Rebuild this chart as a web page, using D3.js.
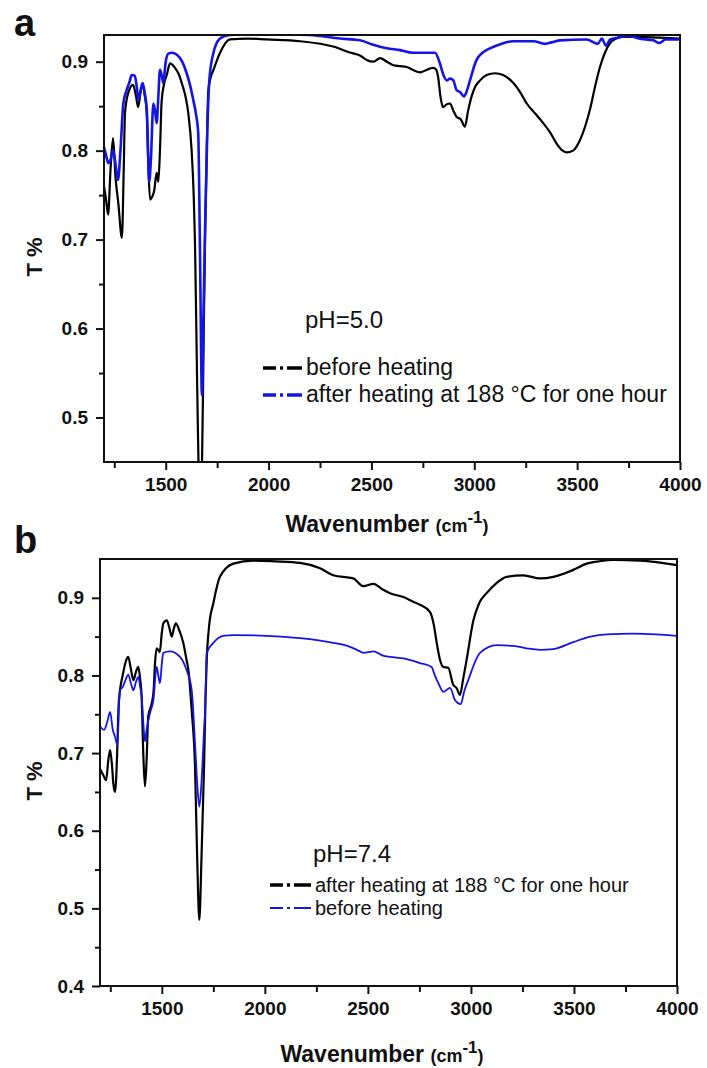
<!DOCTYPE html>
<html>
<head>
<meta charset="utf-8">
<script src="https://cdn.jsdelivr.net/npm/d3@7"></script>
<style>
   body { margin: 0; background: #fff; }
   svg { display: block; font-family: 'Liberation Sans', Arial, sans-serif; }
   .axis text { font-weight: bold; font-size: 19px; fill: #111; }
   .axis line { stroke: #111; stroke-width: 2; }
   .axis path { display: none; }
</style>
</head>
<body>
<svg id="chart" width="707" height="1068"></svg>
<script>
// x axis ticks (shared by both panels)
const xMajorTicks = [1500, 2000, 2500, 3000, 3500, 4000];
const xMinorTicks = [1250, 1750, 2250, 2750, 3250, 3750];

// panel a, pH 5.0
const aYTicks = [0.5, 0.6, 0.7, 0.8, 0.9];
const aYMinor = [0.55, 0.65, 0.75, 0.85];
const aLegend = ['before heating', 'after heating at 188 °C for one hour'];
// [wavenumber, T]
const aBefore = [[1200,0.76],[1210,0.745],[1220,0.728],[1232,0.78],[1244,0.814],[1256,0.77],[1270,0.74],[1287,0.702],[1296,0.78],[1302,0.842],[1318,0.865],[1341,0.874],[1355,0.862],[1366,0.849],[1378,0.866],[1388,0.874],[1398,0.862],[1408,0.842],[1416,0.78],[1424,0.745],[1434,0.748],[1444,0.755],[1456,0.775],[1464,0.765],[1472,0.8],[1480,0.855],[1492,0.875],[1505,0.885],[1521,0.898],[1545,0.893],[1565,0.885],[1578,0.876],[1595,0.862],[1610,0.842],[1626,0.80],[1636,0.75],[1642,0.70],[1652,0.55],[1660,0.44],[1668,0.40],[1676,0.44],[1684,0.58],[1691,0.70],[1699,0.795],[1707,0.867],[1718,0.882],[1731,0.89],[1764,0.91],[1812,0.925],[1900,0.926],[1991,0.925],[2153,0.923],[2314,0.917],[2400,0.91],[2444,0.907],[2477,0.902],[2510,0.9],[2542,0.904],[2575,0.9],[2607,0.896],[2640,0.895],[2671,0.894],[2700,0.891],[2736,0.888],[2770,0.891],[2800,0.893],[2815,0.891],[2824,0.883],[2836,0.86],[2848,0.849],[2865,0.852],[2882,0.853],[2898,0.845],[2914,0.838],[2935,0.835],[2954,0.827],[2970,0.845],[2987,0.861],[3005,0.872],[3028,0.879],[3060,0.885],[3101,0.887],[3140,0.885],[3190,0.876],[3225,0.865],[3255,0.853],[3295,0.842],[3335,0.831],[3370,0.82],[3400,0.808],[3430,0.80],[3449,0.798],[3480,0.80],[3514,0.812],[3540,0.828],[3562,0.846],[3590,0.875],[3611,0.894],[3635,0.91],[3660,0.921],[3690,0.926],[3708,0.928],[3800,0.928],[3900,0.927],[4000,0.926]];
const aAfter = [[1200,0.804],[1210,0.795],[1220,0.786],[1232,0.79],[1244,0.80],[1256,0.785],[1268,0.767],[1280,0.80],[1294,0.853],[1310,0.868],[1325,0.878],[1334,0.885],[1350,0.884],[1360,0.87],[1367,0.857],[1378,0.868],[1388,0.876],[1398,0.865],[1408,0.846],[1414,0.80],[1420,0.765],[1428,0.79],[1440,0.853],[1448,0.845],[1456,0.831],[1464,0.86],[1472,0.891],[1480,0.885],[1488,0.876],[1500,0.90],[1513,0.909],[1530,0.91],[1553,0.908],[1580,0.90],[1602,0.887],[1620,0.872],[1634,0.857],[1648,0.84],[1658,0.82],[1667,0.68],[1676,0.525],[1684,0.62],[1692,0.72],[1702,0.82],[1712,0.879],[1731,0.909],[1764,0.926],[1812,0.93],[1900,0.931],[2000,0.931],[2200,0.93],[2347,0.926],[2444,0.924],[2509,0.919],[2575,0.915],[2639,0.913],[2700,0.91],[2736,0.91],[2809,0.91],[2833,0.898],[2850,0.885],[2866,0.879],[2882,0.881],[2898,0.879],[2914,0.868],[2930,0.866],[2950,0.861],[2965,0.868],[2979,0.879],[3011,0.902],[3040,0.91],[3076,0.915],[3130,0.92],[3190,0.923],[3287,0.923],[3344,0.92],[3380,0.922],[3417,0.924],[3546,0.925],[3600,0.92],[3620,0.926],[3640,0.918],[3660,0.925],[3700,0.927],[3750,0.929],[3800,0.926],[3870,0.924],[3900,0.921],[3930,0.925],[4000,0.925]];

// panel b, pH 7.4
const bYTicks = [0.4, 0.5, 0.6, 0.7, 0.8, 0.9];
const bYMinor = [0.45, 0.55, 0.65, 0.75, 0.85];
const bLegend = ['after heating at 188 °C for one hour', 'before heating'];
const bAfter = [[1200,0.68],[1215,0.672],[1230,0.665],[1240,0.69],[1249,0.704],[1258,0.685],[1265,0.66],[1273,0.65],[1282,0.69],[1290,0.76],[1297,0.781],[1310,0.80],[1325,0.818],[1337,0.824],[1350,0.808],[1362,0.794],[1375,0.805],[1386,0.811],[1395,0.795],[1402,0.773],[1410,0.70],[1418,0.657],[1426,0.69],[1434,0.747],[1451,0.764],[1460,0.78],[1467,0.816],[1475,0.835],[1483,0.833],[1490,0.83],[1500,0.855],[1507,0.867],[1524,0.871],[1536,0.862],[1548,0.85],[1558,0.86],[1568,0.867],[1585,0.858],[1604,0.842],[1620,0.82],[1629,0.807],[1645,0.755],[1661,0.683],[1672,0.56],[1682,0.485],[1692,0.56],[1705,0.683],[1712,0.77],[1718,0.82],[1730,0.865],[1750,0.893],[1782,0.927],[1847,0.944],[1944,0.948],[2050,0.947],[2171,0.945],[2268,0.938],[2332,0.929],[2429,0.925],[2478,0.915],[2527,0.918],[2570,0.911],[2607,0.906],[2672,0.901],[2720,0.895],[2753,0.891],[2801,0.882],[2820,0.865],[2834,0.842],[2850,0.82],[2866,0.811],[2890,0.81],[2914,0.788],[2930,0.784],[2947,0.775],[2962,0.795],[2979,0.82],[3012,0.871],[3040,0.893],[3076,0.906],[3120,0.918],[3173,0.927],[3254,0.929],[3335,0.925],[3400,0.927],[3450,0.931],[3497,0.936],[3562,0.944],[3620,0.947],[3691,0.949],[3821,0.948],[3900,0.946],[4000,0.942]];
const bBefore = [[1200,0.735],[1208,0.732],[1220,0.73],[1235,0.74],[1249,0.753],[1262,0.73],[1273,0.721],[1285,0.71],[1292,0.76],[1297,0.781],[1310,0.785],[1325,0.795],[1337,0.801],[1350,0.79],[1362,0.781],[1375,0.792],[1386,0.798],[1395,0.785],[1402,0.773],[1410,0.74],[1418,0.715],[1426,0.73],[1443,0.752],[1459,0.768],[1475,0.811],[1483,0.80],[1491,0.79],[1500,0.815],[1507,0.829],[1540,0.831],[1588,0.824],[1620,0.807],[1645,0.781],[1661,0.713],[1672,0.66],[1682,0.631],[1692,0.66],[1705,0.73],[1710,0.755],[1718,0.829],[1750,0.842],[1798,0.851],[1847,0.852],[2009,0.851],[2171,0.848],[2332,0.842],[2400,0.838],[2462,0.831],[2478,0.829],[2527,0.831],[2570,0.826],[2607,0.824],[2672,0.822],[2753,0.816],[2809,0.811],[2825,0.80],[2842,0.79],[2866,0.779],[2899,0.784],[2923,0.768],[2950,0.763],[2968,0.78],[2987,0.794],[3044,0.829],[3125,0.839],[3206,0.838],[3270,0.835],[3335,0.833],[3400,0.834],[3497,0.843],[3580,0.85],[3659,0.853],[3788,0.854],[3900,0.853],[4000,0.851]];

const BLUE = '#1414e6';

class SpectrumPanel {
   constructor(_config, _data) {
      this.config = {
         svg: _config.svg,
         id: _config.id,
         left: _config.left,
         top: _config.top,
         width: _config.width,
         height: _config.height,
         yDomain: _config.yDomain,
         yTicks: _config.yTicks,
         yMinor: _config.yMinor,
         letter: _config.letter,
         letterY: _config.letterY,
         yTitleY: _config.yTitleY,
         xTitleX: _config.xTitleX,
         xTitleY: _config.xTitleY,
         ph: _config.ph,
         phPos: _config.phPos,
         legend: _config.legend,
      };
      this.data = _data;
      this.initVis();
   }

   initVis() {
      const c = this.config;

      this.xScale = d3.scaleLinear().domain([1200, 4000]).range([0, c.width]);
      this.yScale = d3.scaleLinear().domain(c.yDomain).range([c.height, 0]);

      this.chart = c.svg
         .append('g')
         .attr('transform', `translate(${c.left}, ${c.top})`);

      c.svg.append('clipPath')
         .attr('id', `clip-${c.id}`)
         .append('rect')
         .attr('width', c.width)
         .attr('height', c.height);

      // minor ticks first, then majors with labels
      this.chart.append('g')
         .attr('class', 'axis')
         .attr('transform', `translate(0, ${c.height})`)
         .call(d3.axisBottom(this.xScale).tickValues(xMinorTicks).tickSize(6).tickFormat(''));
      this.chart.append('g')
         .attr('class', 'axis')
         .attr('transform', `translate(0, ${c.height})`)
         .call(d3.axisBottom(this.xScale).tickValues(xMajorTicks).tickSize(8).tickPadding(8).tickFormat(d3.format('d')));

      this.chart.append('g')
         .attr('class', 'axis')
         .call(d3.axisLeft(this.yScale).tickValues(c.yMinor).tickSize(5).tickFormat(''));
      this.chart.append('g')
         .attr('class', 'axis')
         .call(d3.axisLeft(this.yScale).tickValues(c.yTicks).tickSize(8).tickPadding(8).tickFormat(d3.format('.1f')));

      this.line = d3.line()
         .x((d) => this.xScale(d[0]))
         .y((d) => this.yScale(d[1]))
         .curve(d3.curveMonotoneX);

      this.plot = this.chart.append('g').attr('clip-path', `url(#clip-${c.id})`);

      // frame
      this.chart.append('rect')
         .attr('width', c.width)
         .attr('height', c.height)
         .attr('fill', 'none')
         .attr('stroke', '#111')
         .attr('stroke-width', 2);

      // panel letter
      c.svg.append('text')
         .attr('x', 14)
         .attr('y', c.letterY)
         .attr('font-size', 38)
         .attr('font-weight', 'bold')
         .attr('fill', '#111')
         .text(c.letter);

      c.svg.append('text')
         .attr('transform', `translate(42, ${c.yTitleY}) rotate(-90)`)
         .attr('text-anchor', 'middle')
         .attr('font-size', 22)
         .attr('font-weight', 'bold')
         .attr('fill', '#111')
         .text('T %');

      const xt = c.svg.append('text')
         .attr('x', c.xTitleX)
         .attr('y', c.xTitleY)
         .attr('text-anchor', 'middle')
         .attr('font-weight', 'bold')
         .attr('fill', '#111');
      xt.append('tspan').attr('font-size', 23).text('Wavenumber ');
      xt.append('tspan').attr('font-size', 18).text('(cm');
      xt.append('tspan').attr('font-size', 17).attr('dy', -9).text('-1');
      xt.append('tspan').attr('font-size', 18).attr('dy', 9).text(')');

      c.svg.append('text')
         .attr('x', c.phPos[0])
         .attr('y', c.phPos[1])
         .attr('font-size', 24)
         .attr('fill', '#111')
         .text(c.ph);

      this.updateVis();
   }

   updateVis() {
      const c = this.config;

      this.plot.selectAll('path.series')
         .data(this.data)
         .join('path')
         .attr('class', 'series')
         .attr('fill', 'none')
         .attr('stroke', (d) => d.color)
         .attr('stroke-width', (d) => d.width)
         .attr('stroke-linejoin', 'round')
         .attr('d', (d) => this.line(d.values));

      const lg = c.svg.append('g')
         .attr('transform', `translate(${c.legend.x}, ${c.legend.y})`);
      const items = lg.selectAll('g')
         .data(this.data.filter((d) => d.label))
         .join('g')
         .attr('transform', (d, i) => `translate(0, ${i * c.legend.step})`);
      items.append('line')
         .attr('x1', 0)
         .attr('x2', c.legend.sample)
         .attr('y1', -7)
         .attr('y2', -7)
         .attr('stroke', (d) => d.color)
         .attr('stroke-width', (d) => d.legendWidth)
         .attr('stroke-dasharray', '13,4,3,4,20');
      items.append('text')
         .attr('x', c.legend.sample + 4)
         .attr('font-size', c.legend.fontSize)
         .attr('fill', '#111')
         .text((d) => d.label);
   }
}

const svg = d3.select('#chart');

new SpectrumPanel(
   {
      svg: svg, id: 'a',
      left: 104, top: 35, width: 576, height: 427,
      yDomain: [0.45, 0.93], yTicks: aYTicks, yMinor: aYMinor,
      letter: 'a', letterY: 36, yTitleY: 257,
      xTitleX: 387, xTitleY: 532,
      ph: 'pH=5.0', phPos: [305, 328],
      legend: { x: 263, y: 375, step: 27, sample: 39, fontSize: 23 },
   },
   [
      { label: aLegend[0], values: aBefore, color: '#000', width: 2.2, legendWidth: 3.5 },
      { label: aLegend[1], values: aAfter, color: BLUE, width: 2.6, legendWidth: 3.5 },
   ]
);

new SpectrumPanel(
   {
      svg: svg, id: 'b',
      left: 100, top: 559, width: 577, height: 427,
      yDomain: [0.4, 0.95], yTicks: bYTicks, yMinor: bYMinor,
      letter: 'b', letterY: 553, yTitleY: 781,
      xTitleX: 382, xTitleY: 1062,
      ph: 'pH=7.4', phPos: [313, 862],
      legend: { x: 270, y: 892, step: 23, sample: 41, fontSize: 20 },
   },
   [
      { label: bLegend[0], values: bAfter, color: '#000', width: 2.2, legendWidth: 3.5 },
      { label: bLegend[1], values: bBefore, color: BLUE, width: 1.8, legendWidth: 1.8 },
   ]
);
</script>
</body>
</html>
